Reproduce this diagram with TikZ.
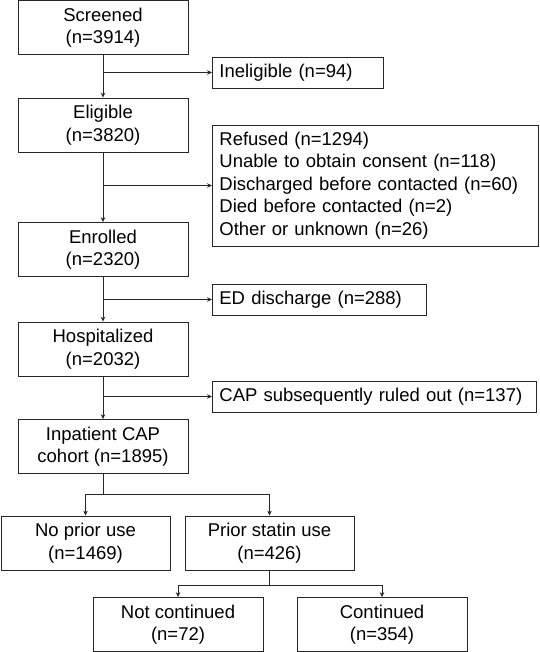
\documentclass[tikz,border=0pt]{standalone}
\usepackage{fontspec}
\setmainfont{Liberation Sans}
\usepackage{tikz}
\usetikzlibrary{calc}
\usetikzlibrary{arrows.meta,positioning}

\begin{document}
\begin{tikzpicture}[x=1pt, y=-1pt, font=\fontsize{18.5}{22.5}\selectfont]
    % Define styles
    \tikzstyle{box} = [rectangle, draw=black!85, line width=0.8pt, minimum width=170pt, minimum height=54pt, align=center, inner sep=2pt]
    \tikzstyle{sidebox} = [rectangle, draw=black!85, line width=0.8pt, anchor=west, align=left, inner xsep=7pt, inner ysep=3pt, minimum height=31pt]
    \tikzstyle{line} = [draw=black!85, line width=0.8pt]
    \tikzstyle{arrow} = [line, -{Stealth[length=5pt,width=4.5pt]}]

    \useasboundingbox (0,0) rectangle (539,652);

    % Main column
    \node[box] (screened) at (103,27.5) {Screened\\(n=3914)};
    \node[box] (eligible) at (103,125) {Eligible\\(n=3820)};
    \node[box] (enrolled) at (103,249.5) {Enrolled\\(n=2320)};
    \node[box] (hospitalized) at (103,349) {Hospitalized\\(n=2032)};
    \node[box] (inpatient) at (103,446.5) {Inpatient CAP\\cohort (n=1895)};

    % Exclusions on the right
    \node[sidebox, text width=157pt] (ineligible) at (212,72.5) {Ineligible (n=94)};
    \node[sidebox, text width=312pt, minimum height=121pt] (refused) at (212,185.5)
        {Refused (n=1294)\\Unable to obtain consent (n=118)\\Discharged before contacted (n=60)\\Died before contacted (n=2)\\Other or unknown (n=26)};
    \node[sidebox, text width=200pt] (eddischarge) at (212,299.5) {ED discharge (n=288)};
    \node[sidebox, text width=310pt] (ruledout) at (212,396.5) {CAP subsequently ruled out (n=137)};

    % Statin groups
    \node[box, minimum width=169pt] (noprior) at (85.5,543) {No prior use\\(n=1469)};
    \node[box, minimum width=169pt] (prior) at (269.5,543) {Prior statin use\\(n=426)};
    \node[box] (notcont) at (178,624.5) {Not continued\\(n=72)};
    \node[box] (cont) at (382,624.5) {Continued\\(n=354)};

    % Draw main flow
    \draw[arrow] (screened) -- (eligible);
    \draw[arrow] (eligible) -- (enrolled);
    \draw[arrow] (enrolled) -- (hospitalized);
    \draw[arrow] (hospitalized) -- (inpatient);

    % Draw branches to exclusions
    \coordinate (b1) at (screened.south |- ineligible.west);
    \coordinate (b2) at (eligible.south |- refused.west);
    \coordinate (b3) at (enrolled.south |- eddischarge.west);
    \coordinate (b4) at (hospitalized.south |- ruledout.west);
    \draw[arrow] (b1) -- (ineligible.west);
    \draw[arrow] (b2) -- (refused.west);
    \draw[arrow] (b3) -- (eddischarge.west);
    \draw[arrow] (b4) -- (ruledout.west);

    % Draw splits
    \coordinate (s1) at ($(inpatient.south)+(0,20)$);
    \draw[line] (inpatient.south) -- (s1);
    \draw[arrow] (s1) -| (noprior.north);
    \draw[arrow] (s1) -| (prior.north);
    \coordinate (s2) at ($(prior.south)+(0,15)$);
    \draw[line] (prior.south) -- (s2);
    \draw[arrow] (s2) -| (notcont.north);
    \draw[arrow] (s2) -| (cont.north);
\end{tikzpicture}
\end{document}
